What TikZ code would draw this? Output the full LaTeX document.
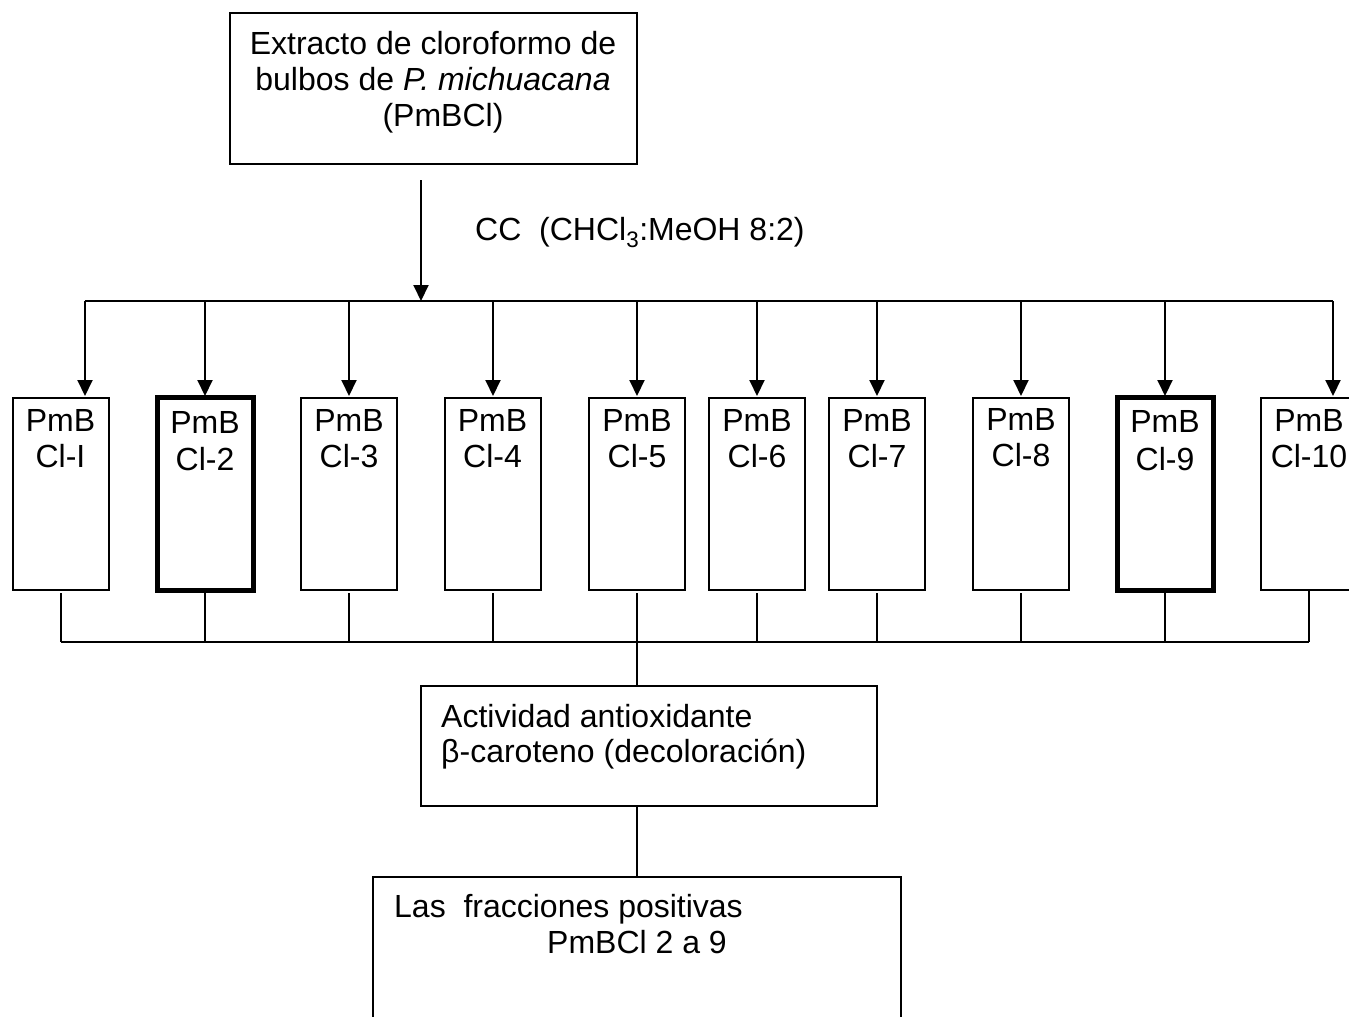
\documentclass[tikz,border=0pt]{standalone}
\usepackage{fontspec}
\setmainfont{Liberation Sans}
\usetikzlibrary{arrows.meta}
\begin{document}
\begin{tikzpicture}[x=1pt,y=-1pt,
  thinbox/.style={draw, line width=2pt, inner sep=0pt, minimum width=96pt, minimum height=192pt},
  boldbox/.style={draw, line width=5pt, inner sep=0pt, minimum width=96pt, minimum height=193pt},
  bigbox/.style={draw, line width=2pt, inner sep=0pt},
  txt/.style={inner sep=0pt, font=\fontsize{32}{38}\selectfont},
  arr/.style={-{Triangle[width=15pt,length=16pt]}, line width=2pt},
  ln/.style={line width=2pt}]
\useasboundingbox (0,0) rectangle (1349,1017);
\fill[white] (0,0) rectangle (1349,1017);
\clip (0,0) rectangle (1349,1017);

% top box
\node[bigbox, minimum width=407pt, minimum height=151pt] (top) at (433.5,88) {};
\node[txt, anchor=base] (t1) at (433,54) {Extracto de cloroformo de};
\node[txt, anchor=base] (t2) at (433,90) {bulbos de \textit{P. michuacana}};
\node[txt, anchor=base] (t3) at (443,126) {(PmBCl)};

% main arrow and label
\coordinate (m0) at (421,180);
\coordinate (m1) at (421,301);
\draw[arr] (m0) -- (m1);
\node[txt, anchor=base west] (cc) at (475,240) {CC\ \ (CHCl\textsubscript{3}:MeOH 8:2)};

% fraction boxes
\foreach \i/\cx/\ax/\lab/\st/\ey/\pb/\cb in {
  1/60.5/85/I/thinbox/593/431/467,
  2/205/205/2/boldbox/593/433/470,
  3/349/349/3/thinbox/593/431/467,
  4/492.5/493/4/thinbox/593/431/467,
  5/637/637/5/thinbox/593/431/467,
  6/757/757/6/thinbox/593/431/467,
  7/877/877/7/thinbox/593/431/467,
  8/1021/1021/8/thinbox/593/430/466,
  9/1165/1165/9/boldbox/593/432/470,
  10/1309/1333/10/thinbox/589/431/467} {
  \node[\st] (b\i) at (\cx,493.5) {};
  \node[txt, anchor=base] (p\i) at (\cx,\pb) {PmB};
  \node[txt, anchor=base] (c\i) at (\cx,\cb) {Cl-\lab};
  \coordinate (u\i) at (\ax,301);
  \coordinate (n\i) at (\ax,396);
  \draw[arr] (u\i) -- (n\i);
  \coordinate (e\i) at (\cx,\ey);
  \coordinate (d\i) at (\cx,642);
  \draw[ln] (e\i) -- (d\i);
}
\draw[ln] (u1) -- (u10);
\draw[ln] (d1) -- (d10);

% activity box
\node[bigbox, minimum width=456pt, minimum height=120pt] (act) at (649,746) {};
\node[txt, anchor=base west] (a1) at (441,727) {Actividad antioxidante};
\node[txt, anchor=base west] (a2) at (441,762) {β-caroteno (decoloración)};
\coordinate (k0) at (637,642);
\coordinate (k1) at (637,686);
\draw[ln] (k0) -- (k1);

% result box
\node[bigbox, minimum width=528pt, minimum height=160pt] (res) at (637,957) {};
\node[txt, anchor=base west] (r1) at (394,917) {Las\ \ fracciones positivas};
\node[txt, anchor=base west] (r2) at (547,953) {PmBCl 2 a 9};
\coordinate (k2) at (637,806);
\coordinate (k3) at (637,877);
\draw[ln] (k2) -- (k3);
\end{tikzpicture}
\end{document}
